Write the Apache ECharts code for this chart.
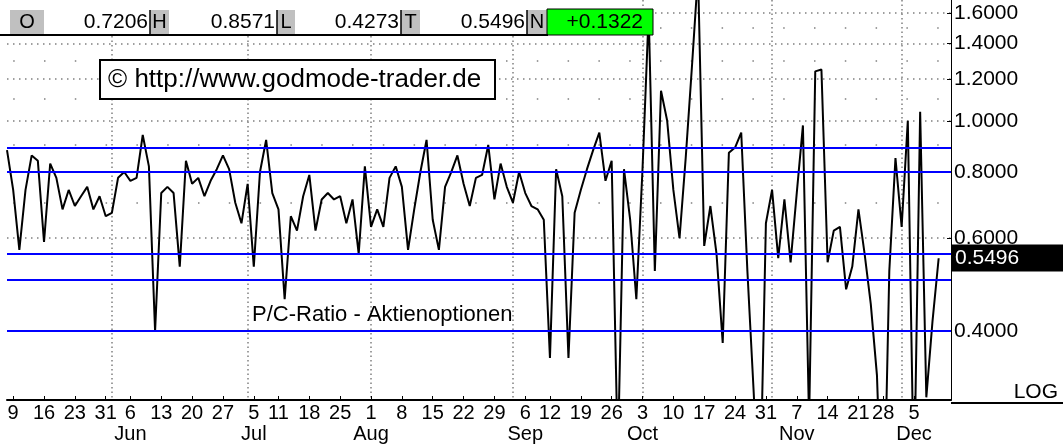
<!DOCTYPE html>
<html>
<head>
<meta charset="utf-8">
<script src="https://cdn.jsdelivr.net/npm/echarts@6/dist/echarts.min.js"></script>
<style>
  html, body { margin: 0; padding: 0; background: #fff; }
  #chart { width: 1063px; height: 445px; }
</style>
</head>
<body>
<div id="chart"></div>
<script>
// Handelstage 2005 (erster / letzter Tag der Achse, Feiertage)
const firstDay = '2005-05-06';
const lastDay = '2005-12-13';
const holidays = ['2005-05-30', '2005-07-04', '2005-09-05', '2005-11-24'];

// P/C-Ratio Aktienoptionen, ein Wert pro Handelstag ab 6. Mai
const ratio = [
  0.88, 0.74, 0.57, 0.74, 0.86, 0.84, 0.59, 0.83, 0.78, 0.68,
  0.74, 0.69, 0.72, 0.75, 0.68, 0.72, 0.66, 0.67, 0.78, 0.80,
  0.77, 0.78, 0.94, 0.82, 0.40, 0.73, 0.75, 0.73, 0.53, 0.84,
  0.76, 0.78, 0.72, 0.77, 0.81, 0.86, 0.81, 0.70, 0.64, 0.76,
  0.53, 0.80, 0.92, 0.73, 0.68, 0.46, 0.66, 0.62, 0.72, 0.79,
  0.62, 0.71, 0.73, 0.71, 0.72, 0.64, 0.71, 0.56, 0.82, 0.63,
  0.68, 0.63, 0.78, 0.82, 0.75, 0.57, 0.68, 0.80, 0.92, 0.65,
  0.57, 0.75, 0.80, 0.86, 0.76, 0.69, 0.78, 0.79, 0.90, 0.71,
  0.83, 0.75, 0.70, 0.80, 0.73, 0.69, 0.68, 0.65, 0.356, 0.81,
  0.72, 0.356, 0.67, 0.74, 0.81, 0.88, 0.95, 0.77, 0.84, 0.23,
  0.81, 0.65, 0.46, 0.81, 1.60, 0.52, 1.14, 1.00, 0.74, 0.60,
  0.85, 1.26, 1.90, 0.58, 0.69, 0.56, 0.38, 0.87, 0.89, 0.95,
  0.52, 0.31, 0.18, 0.64, 0.74, 0.55, 0.71, 0.54, 0.73, 0.98,
  0.27, 1.24, 1.25, 0.54, 0.62, 0.63, 0.48, 0.53, 0.68, 0.56,
  0.45, 0.33, 0.15, 0.52, 0.85, 0.63, 1.00, 0.20, 1.04, 0.30,
  0.4174, 0.5496
];

// blaue Linien
const levels = [0.89, 0.80, 0.56, 0.50, 0.40];

// rechte Achse
const yTicks = [0.4, 0.6, 0.8, 1.0, 1.2, 1.4, 1.6];
const yMinor = [0.7, 0.9, 1.1, 1.3, 1.5];

const monthNames = ['Jan', 'Feb', 'Mar', 'Apr', 'May', 'Jun', 'Jul', 'Aug', 'Sep', 'Oct', 'Nov', 'Dec'];

// Kopfzeile
const headLabels = ['O', 'H', 'L', 'T'];
const headValues = ['0.7206', '0.8571', '0.4273', '0.5496'];
const headChange = '+0.1322';

const FONT = '"Liberation Sans", Arial, sans-serif';

function tradingDays(from, to, skip) {
  const out = [];
  const d = new Date(from + 'T00:00:00Z');
  const end = new Date(to + 'T00:00:00Z');
  while (d <= end) {
    const wd = d.getUTCDay();
    const s = d.toISOString().slice(0, 10);
    if (wd !== 0 && wd !== 6 && skip.indexOf(s) < 0) out.push(s);
    d.setUTCDate(d.getUTCDate() + 1);
  }
  return out;
}

const dates = tradingDays(firstDay, lastDay, holidays);
const wday = s => new Date(s + 'T00:00:00Z').getUTCDay();
const mon = s => +s.slice(5, 7) - 1;

// Wochenanfang -> Beschriftung, Monatsanfang -> Gitterlinie
const weekStart = {};
const monthLabel = {};
const monthStart = {};
let lastMon = mon(dates[0]);
dates.forEach(function(s, i) {
  if (i === 0) return;
  if (mon(s) !== mon(dates[i - 1])) monthStart[i] = true;
  if (i < ratio.length && wday(s) < wday(dates[i - 1])) {
    weekStart[i] = true;
    if (mon(s) !== lastMon) {
      monthLabel[i] = monthNames[mon(s)];
      lastMon = mon(s);
    }
  }
});

const last = ratio[ratio.length - 1];

const chart = echarts.init(document.getElementById('chart'), null, { renderer: 'canvas' });

const textStyle = function(txt, x, y, align, size, fill) {
  return {
    type: 'text',
    z: 110,
    style: {
      text: txt, x: x, y: y,
      align: align, textAlign: align,
      verticalAlign: 'middle', textVerticalAlign: 'middle',
      font: size + 'px ' + FONT,
      fill: fill || '#000'
    }
  };
};

// Kopfzeile aufbauen
const headEls = [
  { type: 'rect', z: 100, shape: { x: 0, y: 0, width: 548, height: 35 }, style: { fill: '#fff' } },
  { type: 'line', z: 105, shape: { x1: 0, y1: 35, x2: 548, y2: 35 }, style: { stroke: '#000', lineWidth: 2 } }
];
const boxX = [10, 150, 277, 401, 527];
const boxW = [34, 19, 18, 19, 20];
const valRight = [148, 275, 399, 525];
boxX.forEach(function(x, k) {
  headEls.push({ type: 'rect', z: 101, shape: { x: x, y: 10, width: boxW[k], height: 24 }, style: { fill: '#c0c0c0' } });
  if (k > 0) headEls.push({ type: 'line', z: 102, shape: { x1: x, y1: 10, x2: x, y2: 34 }, style: { stroke: '#000', lineWidth: 1.5 } });
  headEls.push(textStyle(k < 4 ? headLabels[k] : 'N', x + boxW[k] / 2, 22, 'center', 20));
  if (k < 4) headEls.push(textStyle(headValues[k], valRight[k], 22, 'right', 21));
});
headEls.push({ type: 'rect', z: 101, shape: { x: 547, y: 9, width: 106, height: 26 }, style: { fill: '#00ff00', stroke: '#000', lineWidth: 1 } });
headEls.push(textStyle(headChange, 643, 22, 'right', 21));

const option = {
  animation: false,
  backgroundColor: '#fff',
  grid: { left: 7, right: 112, top: 0, bottom: 42, containLabel: false },
  xAxis: {
    type: 'category',
    data: dates,
    boundaryGap: false,
    axisLine: { onZero: false, lineStyle: { color: '#000', width: 2 } },
    axisTick: {
      inside: true, length: 4,
      interval: function(i) { return !!weekStart[i]; },
      lineStyle: { color: '#000' }
    },
    axisLabel: {
      interval: function(i) { return !!weekStart[i]; },
      formatter: function(v, i) {
        const day = String(+v.slice(8, 10));
        return monthLabel[i] ? day + '\n' + monthLabel[i] : day;
      },
      color: '#000', fontFamily: FONT, fontSize: 20, lineHeight: 21, margin: 3
    },
    splitLine: {
      show: true,
      interval: function(i) { return !!monthStart[i]; },
      lineStyle: { color: '#808080', width: 1.5, type: [1.5, 3] }
    }
  },
  yAxis: [
    {
      type: 'log',
      logBase: 10,
      position: 'right',
      min: 0.2965,
      max: 1.692,
      axisLine: { show: true, onZero: false, lineStyle: { color: '#000', width: 1 } },
      axisTick: { show: true, inside: true, length: 4, customValues: yTicks, lineStyle: { color: '#000' } },
      axisLabel: {
        customValues: yTicks,
        formatter: function(v) { return v.toFixed(4); },
        color: '#000', fontFamily: FONT, fontSize: 21, margin: 3
      },
      splitLine: { show: true, lineStyle: { color: '#808080', width: 1.5, type: [1.5, 4.5] } }
    },
    {
      type: 'log',
      logBase: 10,
      position: 'right',
      min: 0.2965,
      max: 1.692,
      axisLine: { show: false },
      axisTick: { show: false, customValues: yMinor },
      axisLabel: { show: false, customValues: yMinor },
      splitLine: { show: true, lineStyle: { color: '#808080', width: 1.5, type: [1.5, 29.3], dashOffset: 24.6 } }
    }
  ],
  series: [
    {
      type: 'line',
      data: ratio,
      yAxisIndex: 0,
      showSymbol: false,
      clip: true,
      lineStyle: { color: '#000', width: 2 },
      z: 3,
      markLine: {
        silent: true,
        symbol: 'none',
        animation: false,
        label: { show: false },
        lineStyle: { color: '#0000ff', width: 2, type: 'solid' },
        data: levels.map(function(v) { return { yAxis: v }; }).concat([{
          yAxis: last,
          lineStyle: { width: 0, color: 'transparent' },
          label: {
            show: true,
            position: 'end',
            distance: 1,
            formatter: last.toFixed(4),
            color: '#fff',
            backgroundColor: '#000',
            fontFamily: FONT,
            fontSize: 21,
            padding: [3, 60, 3, 3]
          }
        }])
      }
    }
  ],
  graphic: headEls.concat([
    { type: 'line', z: 50, shape: { x1: 951, y1: 403, x2: 1063, y2: 403 }, style: { stroke: '#000', lineWidth: 2 } },
    { type: 'rect', z: 100, shape: { x: 100, y: 60, width: 395, height: 39 }, style: { fill: '#fff', stroke: '#000', lineWidth: 2 } },
    textStyle('\u00a9 http://www.godmode-trader.de', 108, 80, 'left', 26),
    textStyle('P/C-Ratio - Aktienoptionen', 252, 315, 'left', 22),
    textStyle('LOG', 1058, 392, 'right', 21)
  ])
};

chart.setOption(option);
</script>
</body>
</html>
